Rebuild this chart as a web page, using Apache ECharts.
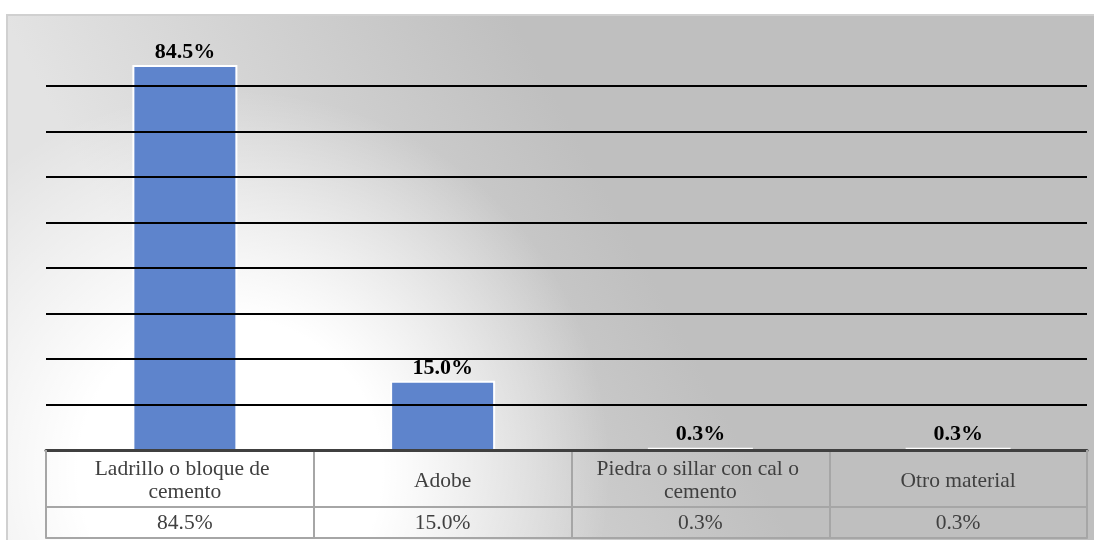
<!DOCTYPE html>
<html>
<head>
<meta charset="utf-8">
<script src="https://cdn.jsdelivr.net/npm/echarts@6/dist/echarts.min.js"></script>
<style>
  html, body { margin: 0; padding: 0; background: #fff; }
  #chart { width: 1094px; height: 540px; }
</style>
</head>
<body>
<div id="chart"></div>
<script>
// datos del gráfico
const categories = [
  "Ladrillo o bloque de cemento",
  "Adobe",
  "Piedra o sillar con cal o cemento",
  "Otro material"
];
const values = [84.5, 15.0, 0.3, 0.3];
const gridValues = [10, 20, 30, 40, 50, 60, 70, 80];
const yMax = 90;
const yStep = 10;

const fmt = (v) => v.toFixed(1) + "%";
const serif = "'Liberation Serif', 'DejaVu Serif', serif";
const tableLine = "#a6a6a6";
const barW = 103;

const chart = echarts.init(document.getElementById("chart"));

// barra con las líneas de división que la cruzan, en un mismo grupo
const renderBar = (params, api) => {
  const v = api.value(1);
  const top = api.coord([api.value(0), v]);
  const base = api.coord([api.value(0), 0]);
  const x0 = top[0] - barW / 2;
  const children = [
    {
      type: "rect",
      shape: { x: x0, y: top[1], width: barW, height: base[1] - top[1] },
      style: { fill: "#5e84cc", stroke: "#ffffff", lineWidth: 2 }
    }
  ];
  gridValues.forEach((g) => {
    if (g < v) {
      const y = Math.round(api.coord([0, g])[1]);
      children.push({
        type: "line",
        z2: 10,
        shape: { x1: x0 - 2, y1: y, x2: x0 + barW + 2, y2: y },
        style: { stroke: "#000000", lineWidth: 2 }
      });
    }
  });
  children.push({
    type: "text",
    z2: 20,
    x: top[0],
    y: top[1] - 3,
    style: {
      text: fmt(v),
      align: "center",
      verticalAlign: "bottom",
      font: "bold 22px " + serif,
      fill: "#000000"
    }
  });
  return { type: "group", children: children };
};

chart.setOption({
  animation: false,
  graphic: [
    {
      // fondo gris en degradado
      type: "rect",
      z: -10,
      shape: { x: 7, y: 15, width: 1100, height: 540 },
      style: {
        fill: new echarts.graphic.LinearGradient(10, 30, 407, -182, [
          { offset: 0, color: "#e3e3e3" },
          { offset: 1, color: "#bfbfbf" }
        ], true),
        stroke: "#d0d0d0",
        lineWidth: 2
      }
    },
    {
      // zona clara abajo a la izquierda
      type: "rect",
      z: -9,
      shape: { x: 8, y: 16, width: 1100, height: 540 },
      style: {
        fill: new echarts.graphic.RadialGradient(230, 470, 380, [
          { offset: 0, color: "rgba(255,255,255,1)" },
          { offset: 0.4, color: "rgba(255,255,255,1)" },
          { offset: 1, color: "rgba(255,255,255,0)" }
        ], true)
      }
    }
  ],
  grid: [
    // líneas de división y bordes de la tabla
    { left: 46, right: 7, top: 41, bottom: 90 },
    // barras y textos de la tabla
    { left: 56, right: 7, top: 41, bottom: 90 }
  ],
  xAxis: [
    {
      type: "category",
      gridIndex: 0,
      data: categories,
      position: "bottom",
      z: 4,
      axisLine: { lineStyle: { color: "#404040", width: 3 } },
      axisTick: {
        show: true,
        alignWithLabel: false,
        interval: (i) => i === 0,
        length: 88,
        lineStyle: { color: tableLine, width: 2 }
      },
      axisLabel: { show: false }
    },
    {
      type: "category",
      gridIndex: 0,
      data: categories,
      position: "bottom",
      offset: 57,
      axisLine: { lineStyle: { color: tableLine, width: 2 } },
      axisTick: { show: false },
      axisLabel: { show: false }
    },
    {
      type: "category",
      gridIndex: 0,
      data: categories,
      position: "bottom",
      offset: 88,
      axisLine: { lineStyle: { color: tableLine, width: 2 } },
      axisTick: { show: false },
      axisLabel: { show: false }
    },
    {
      type: "category",
      gridIndex: 1,
      data: categories,
      position: "bottom",
      axisLine: { show: false },
      axisTick: {
        show: true,
        alignWithLabel: false,
        interval: (i) => i > 0,
        length: 88,
        lineStyle: { color: tableLine, width: 2 }
      },
      axisLabel: {
        interval: 0,
        margin: 31,
        verticalAlign: "middle",
        width: 218,
        overflow: "break",
        fontFamily: serif,
        fontSize: 21.5,
        lineHeight: 23,
        color: "#404040"
      }
    },
    {
      type: "category",
      gridIndex: 1,
      data: categories,
      position: "bottom",
      offset: 57,
      axisLine: { show: false },
      axisTick: { show: false },
      axisLabel: {
        interval: 0,
        margin: 16,
        verticalAlign: "middle",
        fontFamily: serif,
        fontSize: 21.5,
        color: "#404040",
        formatter: (v, i) => fmt(values[i])
      }
    }
  ],
  yAxis: [
    {
      type: "value",
      gridIndex: 0,
      min: 0,
      max: yMax,
      interval: yStep,
      show: false,
      splitLine: { show: false }
    },
    {
      type: "value",
      gridIndex: 1,
      min: 0,
      max: yMax,
      interval: yStep,
      show: false,
      splitLine: { show: false }
    }
  ],
  series: [
    {
      // líneas horizontales a lo ancho del área
      type: "custom",
      xAxisIndex: 0,
      yAxisIndex: 0,
      silent: true,
      clip: false,
      data: gridValues.map((v) => [0, v]),
      renderItem: (params, api) => {
        const cs = params.coordSys;
        const y = Math.round(api.coord([0, api.value(1)])[1]);
        return {
          type: "line",
          shape: { x1: cs.x, y1: y, x2: cs.x + cs.width, y2: y },
          style: { stroke: "#000000", lineWidth: 2 }
        };
      }
    },
    {
      // barras
      type: "custom",
      xAxisIndex: 3,
      yAxisIndex: 1,
      silent: true,
      clip: false,
      data: values.map((v, i) => [i, v]),
      encode: { x: 0, y: 1 },
      renderItem: renderBar
    }
  ]
});
</script>
</body>
</html>
